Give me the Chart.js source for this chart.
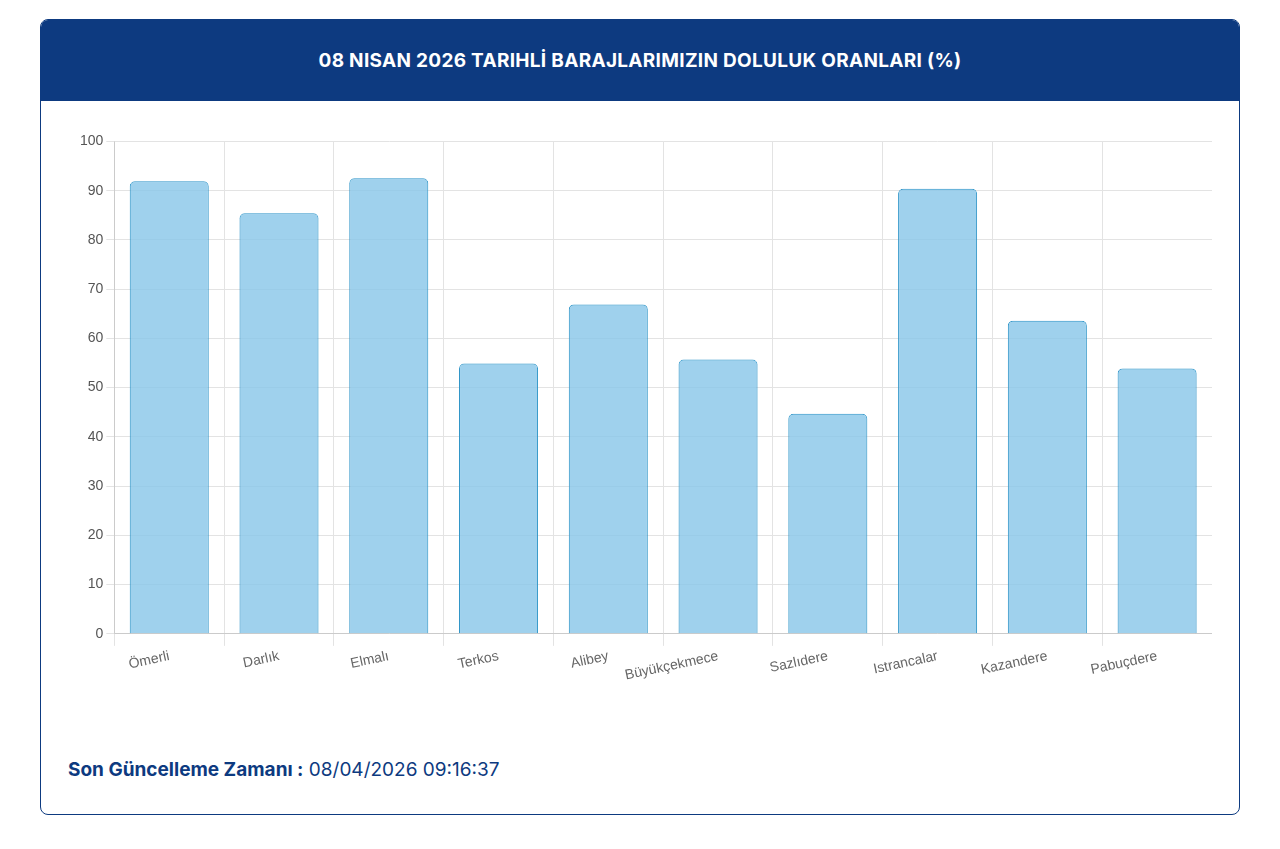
<!DOCTYPE html>
<html>
<head>
<meta charset="utf-8">
<script src="https://cdn.jsdelivr.net/npm/chart.js@4"></script>
<style>
    body { margin: 0; background: #fff; font-family: Inter, "Noto Sans", sans-serif; }
    .card { position: absolute; left: 40px; top: 19px; width: 1198px; height: 794px; border: 1px solid #0d3a80; border-radius: 8px; overflow: hidden; }
    .head { height: 81px; background: #0d3a80; color: #fff; font-weight: 700; font-size: 19px; letter-spacing: 0.3px; text-align: center; line-height: 81px; }
    .wrap { position: absolute; left: 36px; top: 110px; width: 1135px; height: 556px; }
    .foot { position: absolute; left: 27px; top: 738px; font-size: 19px; color: #0d3a80; }
    .foot b { font-weight: 700; }
</style>
</head>
<body>
<div class="card">
    <div class="head">08 NISAN 2026 TARIHLİ BARAJLARIMIZIN DOLULUK ORANLARI (%)</div>
    <div class="wrap"><canvas id="chart"></canvas></div>
    <div class="foot"><b>Son Güncelleme Zamanı :</b> 08/04/2026 09:16:37</div>
</div>
<script>
const dams = ['Ömerli', 'Darlık', 'Elmalı', 'Terkos', 'Alibey', 'Büyükçekmece', 'Sazlıdere', 'Istrancalar', 'Kazandere', 'Pabuçdere'];
const fillRates = [91.9, 85.4, 92.5, 54.9, 66.9, 55.7, 44.7, 90.4, 63.6, 53.9];

new Chart(document.getElementById('chart'), {
    type: 'bar',
    data: {
        labels: dams,
        datasets: [{
            data: fillRates,
            backgroundColor: 'rgba(135, 198, 233, 0.8)',
            borderColor: '#2f95c8',
            borderWidth: 1,
            borderRadius: 5,
            borderSkipped: 'bottom',
            categoryPercentage: 0.72,
            barPercentage: 1
        }]
    },
    options: {
        responsive: true,
        maintainAspectRatio: false,
        animation: false,
        plugins: { legend: { display: false }, tooltip: { enabled: false } },
        scales: {
            x: {
                grid: { color: '#e3e3e3', offset: true, tickLength: 12 },
                ticks: { color: '#666', padding: 2, font: { family: 'Liberation Sans', size: 14 }, minRotation: 12, maxRotation: 12 }
            },
            y: {
                min: 0, max: 100,
                grid: { color: '#e3e3e3' },
                ticks: { stepSize: 10, color: '#555', font: { family: 'Liberation Sans', size: 14 } }
            }
        }
    }
});
</script>
</body>
</html>
